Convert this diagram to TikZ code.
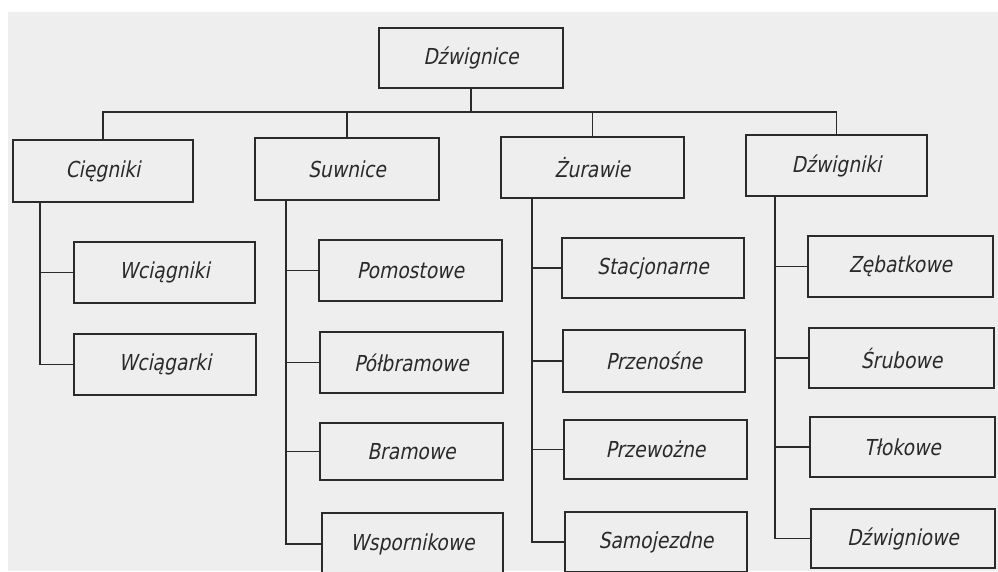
\documentclass[tikz,border=0pt]{standalone}
\usepackage{fontspec}
\newfontfamily\lblfont[FakeStretch=0.85,FakeSlant=0.2]{DejaVu Sans}
\definecolor{ink}{RGB}{42,42,42}
\definecolor{paper}{RGB}{238,238,238}
\tikzset{
  x=1pt, y=-1pt,
  box/.style={draw=ink, line width=1.6pt, fill=paper, minimum width=183pt, minimum height=61pt,
    inner sep=0pt, font=\lblfont\fontsize{22}{24}\selectfont, text=ink},
  link/.style={draw=ink, line width=1.6pt}
}
\begin{document}
\begin{tikzpicture}
\useasboundingbox (0,0) rectangle (998,571);
\fill[white] (0,0) rectangle (998,571);
\fill[paper] (8,12) rectangle (998,571);
\begin{scope}
\clip (0,0) rectangle (998,571);
% root
\node[box, minimum width=184pt, minimum height=60pt] (root) at (471,58) {Dźwignice};
% level 1
\node[box, minimum width=180pt, minimum height=62pt] (cieg) at (103,171) {Cięgniki};
\node[box, minimum width=184pt, minimum height=62pt] (suw) at (347,169) {Suwnice};
\node[box] (zur) at (592.5,167.5) {Żurawie};
\node[box, minimum width=181pt] (dzk) at (836.5,165.5) {Dźwigniki};
% Cięgniki children
\node[box, minimum width=181pt] (wcn) at (164.5,272.5) {Wciągniki};
\node[box, minimum width=182pt] (wcr) at (165,364.5) {Wciągarki};
% Suwnice children
\node[box] (pom) at (410.5,270.5) {Pomostowe};
\node[box] (polb) at (411.5,362.5) {Półbramowe};
\node[box, minimum height=57pt] (bram) at (411.5,451.5) {Bramowe};
\node[box, minimum width=181pt, minimum height=62pt] (wsp) at (412.5,544) {Wspornikowe};
% Żurawie children
\node[box, minimum width=182pt, minimum height=60pt] (stac) at (653,268) {Stacjonarne};
\node[box, minimum width=182pt, minimum height=62pt] (prn) at (654,361) {Przenośne};
\node[box, minimum height=59pt] (prw) at (655.5,449.5) {Przewożne};
\node[box, minimum width=182pt, minimum height=60pt] (samo) at (656,542) {Samojezdne};
% Dźwigniki children
\node[box, minimum width=185pt] (zeb) at (900.5,266.5) {Zębatkowe};
\node[box, minimum width=185pt, minimum height=60pt] (srub) at (901.5,358) {Śrubowe};
\node[box, minimum width=185pt, minimum height=60pt] (tlok) at (902.5,447) {Tłokowe};
\node[box, minimum width=184pt, minimum height=59pt] (dzw) at (903,538.5) {Dźwigniowe};

% bus
\coordinate (bus) at ([yshift=-23pt]root.south);
\draw[link] (root.south) -- (bus);
\draw[link] (cieg.north) |- (bus) -| (dzk.north);
\draw[link] (suw.north) -- (suw.north |- bus);
\draw[link] (zur.north) -- (zur.north |- bus);

% trunks
\coordinate (tC) at ([xshift=28pt]cieg.south west);
\coordinate (tS) at ([xshift=32pt]suw.south west);
\coordinate (tZ) at ([xshift=32pt]zur.south west);
\coordinate (tD) at ([xshift=30pt]dzk.south west);

\draw[link] (tC) |- (wcr.west);
\draw[link] (wcn.west) -- (wcn.west -| tC);

\draw[link] (tS) |- (wsp.west);
\draw[link] (pom.west) -- (pom.west -| tS);
\draw[link] (polb.west) -- (polb.west -| tS);
\draw[link] (bram.west) -- (bram.west -| tS);

\draw[link] (tZ) |- (samo.west);
\draw[link] (stac.west) -- (stac.west -| tZ);
\draw[link] (prn.west) -- (prn.west -| tZ);
\draw[link] (prw.west) -- (prw.west -| tZ);

\draw[link] (tD) |- (dzw.west);
\draw[link] (zeb.west) -- (zeb.west -| tD);
\draw[link] (srub.west) -- (srub.west -| tD);
\draw[link] (tlok.west) -- (tlok.west -| tD);
\end{scope}
\end{tikzpicture}
\end{document}
